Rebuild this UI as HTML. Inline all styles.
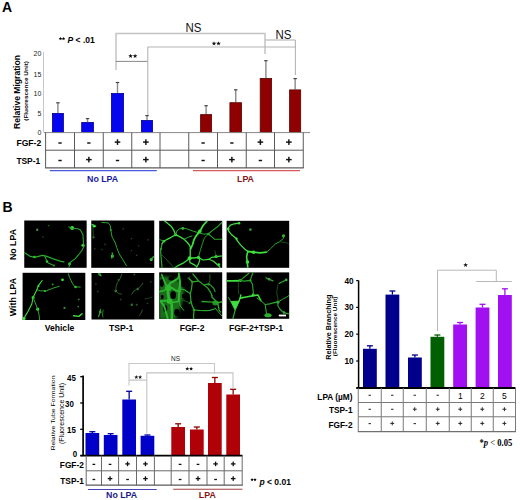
<!DOCTYPE html>
<html><head><meta charset="utf-8"><style>
html,body{margin:0;padding:0;background:#fff;width:520px;height:500px;overflow:hidden}
svg{display:block;font-family:"Liberation Sans", sans-serif}
</style></head><body>
<svg width="520" height="500" viewBox="0 0 520 500">
<rect x="0" y="0" width="520" height="500" fill="#fff"/>
<text transform="translate(2.1,11.8) scale(0.9,1)" x="0" y="0" font-size="15.556" font-weight="bold" font-style="normal" text-anchor="start" fill="#000" font-family="Liberation Sans" >A</text>
<text transform="translate(67.5,43.4) scale(0.96,1)" x="0" y="0" font-size="8.896" font-weight="bold" font-family="Liberation Sans" fill="#000"><tspan font-style="italic">P</tspan> &lt; .01</text>
<polygon points="60.50,36.80 60.97,38.05 62.31,38.11 61.26,38.95 61.62,40.24 60.50,39.50 59.38,40.24 59.74,38.95 58.69,38.11 60.03,38.05" fill="#000"/>
<polygon points="63.50,36.80 63.97,38.05 65.31,38.11 64.26,38.95 64.62,40.24 63.50,39.50 62.38,40.24 62.74,38.95 61.69,38.11 63.03,38.05" fill="#000"/>
<line x1="43.5" y1="52" x2="43.5" y2="132.5" stroke="#c8c8c8" stroke-width="1"/>
<text transform="translate(41.3,56.0) scale(0.9,1)" x="0" y="0" font-size="7.778" font-weight="normal" font-style="normal" text-anchor="end" fill="#222" font-family="Liberation Sans" >20</text>
<text transform="translate(41.3,76.8) scale(0.9,1)" x="0" y="0" font-size="7.778" font-weight="normal" font-style="normal" text-anchor="end" fill="#222" font-family="Liberation Sans" >15</text>
<text transform="translate(41.3,96.4) scale(0.9,1)" x="0" y="0" font-size="7.778" font-weight="normal" font-style="normal" text-anchor="end" fill="#222" font-family="Liberation Sans" >10</text>
<text transform="translate(41.3,115.9) scale(0.9,1)" x="0" y="0" font-size="7.778" font-weight="normal" font-style="normal" text-anchor="end" fill="#222" font-family="Liberation Sans" >5</text>
<text transform="translate(41.3,135.2) scale(0.9,1)" x="0" y="0" font-size="7.778" font-weight="normal" font-style="normal" text-anchor="end" fill="#222" font-family="Liberation Sans" >0</text>
<text transform="translate(20.1,92.0) scale(1.05,1) rotate(-90)" x="0" y="0" font-size="8.6" font-weight="bold" text-anchor="middle" fill="#000" font-family="Liberation Sans" >Relative Migration</text>
<text transform="translate(27.5,90.9) scale(0.9,1) rotate(-90)" x="0" y="0" font-size="6.4" font-weight="bold" text-anchor="middle" fill="#000" font-family="Liberation Sans" >(Fluorescence Unit)</text>
<line x1="57.9" y1="102.5" x2="57.9" y2="113.0" stroke="#8a8a8a" stroke-width="1.4"/>
<line x1="56.199999999999996" y1="102.8" x2="59.6" y2="102.8" stroke="#444" stroke-width="1.2"/>
<rect x="52.4" y="113.4" width="11.0" height="19.199999999999996" fill="#0505f0" stroke="#00008a" stroke-width="0.8"/>
<line x1="87.55" y1="118.3" x2="87.55" y2="122.0" stroke="#8a8a8a" stroke-width="1.4"/>
<line x1="85.85" y1="118.6" x2="89.25" y2="118.6" stroke="#444" stroke-width="1.2"/>
<rect x="81.7" y="122.4" width="11.7" height="10.199999999999994" fill="#0505f0" stroke="#00008a" stroke-width="0.8"/>
<line x1="117.5" y1="82.2" x2="117.5" y2="93.0" stroke="#8a8a8a" stroke-width="1.4"/>
<line x1="115.8" y1="82.5" x2="119.2" y2="82.5" stroke="#444" stroke-width="1.2"/>
<rect x="111.4" y="93.4" width="12.2" height="39.199999999999996" fill="#0505f0" stroke="#00008a" stroke-width="0.8"/>
<line x1="147.0" y1="115.3" x2="147.0" y2="120.0" stroke="#8a8a8a" stroke-width="1.4"/>
<line x1="145.3" y1="115.6" x2="148.7" y2="115.6" stroke="#444" stroke-width="1.2"/>
<rect x="141.4" y="120.4" width="11.2" height="12.199999999999994" fill="#0505f0" stroke="#00008a" stroke-width="0.8"/>
<line x1="206.1" y1="105.4" x2="206.1" y2="114.2" stroke="#8a8a8a" stroke-width="1.4"/>
<line x1="204.4" y1="105.7" x2="207.79999999999998" y2="105.7" stroke="#444" stroke-width="1.2"/>
<rect x="200.6" y="114.60000000000001" width="11.0" height="17.999999999999993" fill="#8f0000" stroke="#5a0000" stroke-width="0.8"/>
<line x1="235.75" y1="89.5" x2="235.75" y2="102.3" stroke="#8a8a8a" stroke-width="1.4"/>
<line x1="234.05" y1="89.8" x2="237.45" y2="89.8" stroke="#444" stroke-width="1.2"/>
<rect x="229.9" y="102.7" width="11.7" height="29.9" fill="#8f0000" stroke="#5a0000" stroke-width="0.8"/>
<line x1="265.90000000000003" y1="60.4" x2="265.90000000000003" y2="78.0" stroke="#8a8a8a" stroke-width="1.4"/>
<line x1="264.20000000000005" y1="60.699999999999996" x2="267.6" y2="60.699999999999996" stroke="#444" stroke-width="1.2"/>
<rect x="260.2" y="78.4" width="11.399999999999999" height="54.199999999999996" fill="#8f0000" stroke="#5a0000" stroke-width="0.8"/>
<line x1="295.15" y1="78.3" x2="295.15" y2="89.5" stroke="#8a8a8a" stroke-width="1.4"/>
<line x1="293.45" y1="78.6" x2="296.84999999999997" y2="78.6" stroke="#444" stroke-width="1.2"/>
<rect x="289.59999999999997" y="89.9" width="11.1" height="42.699999999999996" fill="#8f0000" stroke="#5a0000" stroke-width="0.8"/>
<polyline points="116,70 116,33.6 265,33.6 265,54" fill="none" stroke="#c4c4c4" stroke-width="1.5"/>
<polyline points="116,61.4 147.8,61.4" fill="none" stroke="#6a6a6a" stroke-width="0.8"/>
<polyline points="147.8,115 147.8,47 295.8,47" fill="none" stroke="#b4b4b4" stroke-width="1.1"/>
<polyline points="295.4,40 295.4,75" fill="none" stroke="#b4b4b4" stroke-width="1.1"/>
<polyline points="265,40 295.4,40" fill="none" stroke="#b4b4b4" stroke-width="1.1"/>
<text transform="translate(193.5,32.3) scale(0.9,1)" x="0" y="0" font-size="12.778" font-weight="normal" font-style="normal" text-anchor="middle" fill="#111" font-family="Liberation Sans" >NS</text>
<text transform="translate(283.5,38.8) scale(0.9,1)" x="0" y="0" font-size="12.778" font-weight="normal" font-style="normal" text-anchor="middle" fill="#111" font-family="Liberation Sans" >NS</text>
<polygon points="130.60,53.70 131.19,55.28 132.88,55.36 131.56,56.41 132.01,58.04 130.60,57.11 129.19,58.04 129.64,56.41 128.32,55.36 130.01,55.28" fill="#111"/>
<polygon points="135.10,53.70 135.69,55.28 137.38,55.36 136.06,56.41 136.51,58.04 135.10,57.11 133.69,58.04 134.14,56.41 132.82,55.36 134.51,55.28" fill="#111"/>
<polygon points="214.00,41.20 214.59,42.78 216.28,42.86 214.96,43.91 215.41,45.54 214.00,44.61 212.59,45.54 213.04,43.91 211.72,42.86 213.41,42.78" fill="#111"/>
<polygon points="218.50,41.20 219.09,42.78 220.78,42.86 219.46,43.91 219.91,45.54 218.50,44.61 217.09,45.54 217.54,43.91 216.22,42.86 217.91,42.78" fill="#111"/>
<line x1="44" y1="132.6" x2="310" y2="132.6" stroke="#888" stroke-width="1"/>
<line x1="45.6" y1="132.6" x2="45.6" y2="168" stroke="#5a5a5a" stroke-width="1"/>
<line x1="74.5" y1="132.6" x2="74.5" y2="168" stroke="#5a5a5a" stroke-width="1"/>
<line x1="103.25" y1="132.6" x2="103.25" y2="168" stroke="#5a5a5a" stroke-width="1"/>
<line x1="131.75" y1="132.6" x2="131.75" y2="168" stroke="#5a5a5a" stroke-width="1"/>
<line x1="160" y1="132.6" x2="160" y2="168" stroke="#5a5a5a" stroke-width="1"/>
<line x1="188.75" y1="132.6" x2="188.75" y2="168" stroke="#5a5a5a" stroke-width="1"/>
<line x1="217.5" y1="132.6" x2="217.5" y2="168" stroke="#5a5a5a" stroke-width="1"/>
<line x1="246.25" y1="132.6" x2="246.25" y2="168" stroke="#5a5a5a" stroke-width="1"/>
<line x1="274.5" y1="132.6" x2="274.5" y2="168" stroke="#5a5a5a" stroke-width="1"/>
<line x1="303.25" y1="132.6" x2="303.25" y2="168" stroke="#5a5a5a" stroke-width="1"/>
<line x1="45.6" y1="150.2" x2="303.25" y2="150.2" stroke="#5a5a5a" stroke-width="1"/>
<line x1="45.1" y1="167.8" x2="303.75" y2="167.8" stroke="#5a5a5a" stroke-width="1.3"/>
<text transform="translate(16.4,146.2) scale(0.9,1)" x="0" y="0" font-size="9.556" font-weight="bold" font-style="normal" text-anchor="start" fill="#000" font-family="Liberation Sans" >FGF-2</text>
<text transform="translate(16.4,163.9) scale(0.9,1)" x="0" y="0" font-size="9.333" font-weight="bold" font-style="normal" text-anchor="start" fill="#000" font-family="Liberation Sans" >TSP-1</text>
<rect x="58.40" y="142.28" width="3.30" height="1.45" fill="#111"/>
<rect x="58.40" y="159.78" width="3.30" height="1.45" fill="#111"/>
<rect x="87.22" y="142.28" width="3.30" height="1.45" fill="#111"/>
<rect x="86.08" y="158.88" width="5.60" height="1.45" fill="#111"/>
<rect x="88.15" y="156.80" width="1.45" height="5.60" fill="#111"/>
<rect x="114.70" y="141.38" width="5.60" height="1.45" fill="#111"/>
<rect x="116.78" y="139.30" width="1.45" height="5.60" fill="#111"/>
<rect x="115.85" y="159.78" width="3.30" height="1.45" fill="#111"/>
<rect x="143.07" y="141.38" width="5.60" height="1.45" fill="#111"/>
<rect x="145.15" y="139.30" width="1.45" height="5.60" fill="#111"/>
<rect x="143.07" y="158.88" width="5.60" height="1.45" fill="#111"/>
<rect x="145.15" y="156.80" width="1.45" height="5.60" fill="#111"/>
<rect x="201.47" y="142.28" width="3.30" height="1.45" fill="#111"/>
<rect x="201.47" y="159.78" width="3.30" height="1.45" fill="#111"/>
<rect x="230.22" y="142.28" width="3.30" height="1.45" fill="#111"/>
<rect x="229.07" y="158.88" width="5.60" height="1.45" fill="#111"/>
<rect x="231.15" y="156.80" width="1.45" height="5.60" fill="#111"/>
<rect x="257.57" y="141.38" width="5.60" height="1.45" fill="#111"/>
<rect x="259.65" y="139.30" width="1.45" height="5.60" fill="#111"/>
<rect x="258.73" y="159.78" width="3.30" height="1.45" fill="#111"/>
<rect x="286.07" y="141.38" width="5.60" height="1.45" fill="#111"/>
<rect x="288.15" y="139.30" width="1.45" height="5.60" fill="#111"/>
<rect x="286.07" y="158.88" width="5.60" height="1.45" fill="#111"/>
<rect x="288.15" y="156.80" width="1.45" height="5.60" fill="#111"/>
<line x1="49.8" y1="170.7" x2="156.8" y2="170.7" stroke="#4a5ae0" stroke-width="1.2"/>
<line x1="193" y1="170.7" x2="300" y2="170.7" stroke="#d65a5a" stroke-width="1.2"/>
<text transform="translate(102.6,181.9) scale(0.9,1)" x="0" y="0" font-size="9.778" font-weight="bold" font-style="normal" text-anchor="middle" fill="#1a1aa0" font-family="Liberation Sans" >No LPA</text>
<text transform="translate(245.5,182.3) scale(0.9,1)" x="0" y="0" font-size="9.778" font-weight="bold" font-style="normal" text-anchor="middle" fill="#861818" font-family="Liberation Sans" >LPA</text>
<text transform="translate(2.6,212.0) scale(0.9,1)" x="0" y="0" font-size="15.556" font-weight="bold" font-style="normal" text-anchor="start" fill="#000" font-family="Liberation Sans" >B</text>
<text transform="translate(16.3,244.5) scale(1.05,1) rotate(-90)" x="0" y="0" font-size="8.8" font-weight="bold" text-anchor="middle" fill="#000" font-family="Liberation Sans" >No LPA</text>
<text transform="translate(15.6,297) scale(1.05,1) rotate(-90)" x="0" y="0" font-size="8.8" font-weight="bold" text-anchor="middle" fill="#000" font-family="Liberation Sans" >With LPA</text>
<defs><filter id="gb" x="-5%" y="-5%" width="110%" height="110%"><feGaussianBlur stdDeviation="0.55"/></filter><filter id="gb2" x="-20%" y="-20%" width="140%" height="140%"><feGaussianBlur stdDeviation="1.6"/></filter></defs>
<rect x="24.25" y="220.5" width="62.4" height="47.3" fill="#000" stroke="none" stroke-width="0"/>
<clipPath id="cp0"><rect x="24.25" y="220.5" width="62.4" height="47.3"/></clipPath>
<g clip-path="url(#cp0)">
<g filter="url(#gb)">
<circle cx="72.1" cy="228.0" r="2.0" fill="#3ee03e"/>
<circle cx="37.2" cy="229.7" r="1.2" fill="#4a8a4a"/>
<circle cx="48.6" cy="225.6" r="0.9" fill="#1a601a"/>
<circle cx="42.9" cy="237" r="0.8" fill="#1a601a"/>
<circle cx="82.9" cy="245.3" r="1.5" fill="#3ee03e"/>
<circle cx="34.5" cy="257.0" r="1.3" fill="#3ee03e"/>
<circle cx="47" cy="261.5" r="1.2" fill="#3ee03e"/>
<circle cx="69.5" cy="264" r="1.4" fill="#3ee03e"/>
<circle cx="54" cy="265.6" r="1.0" fill="#2aa82a"/>
<polyline points="68.95,226.9 72.1,228.2 77.8,228.8 80.4,230 82.9,234.5 83.5,243.4 84.2,245.9 81.6,251 75.3,258.6 70.2,262.4 69,266.9" fill="none" stroke="#2aa82a" stroke-width="1.1" stroke-linecap="round" stroke-linejoin="round"/>
<polyline points="23.9,252.3 29.6,256.1 34.7,257.3 42.3,255.4 46.1,256.1 52.5,258.6 60.1,261.1 63.9,261.8" fill="none" stroke="#2aa82a" stroke-width="1.2" stroke-linecap="round" stroke-linejoin="round"/>
<polyline points="44.8,256.1 47.4,262.4 53.7,265.6" fill="none" stroke="#2aa82a" stroke-width="1.1" stroke-linecap="round" stroke-linejoin="round"/>
</g></g>
<rect x="91.25" y="220.5" width="63" height="47.3" fill="#000" stroke="none" stroke-width="0"/>
<clipPath id="cp1"><rect x="91.25" y="220.5" width="63" height="47.3"/></clipPath>
<g clip-path="url(#cp1)">
<g filter="url(#gb)">
<circle cx="94" cy="226" r="1.5" fill="#3ee03e"/>
<circle cx="93.5" cy="237.3" r="1.1" fill="#3c8a3c"/>
<circle cx="112.4" cy="256" r="1.5" fill="#3ee03e"/>
<circle cx="151.2" cy="259.5" r="1.5" fill="#3ee03e"/>
<circle cx="111" cy="230" r="0.9" fill="#2aa82a"/>
<circle cx="123.2" cy="228.9" r="0.8" fill="#303a30"/>
<circle cx="131.5" cy="238.6" r="0.8" fill="#303a30"/>
<circle cx="138.6" cy="245.7" r="0.8" fill="#303a30"/>
<circle cx="131.5" cy="250.8" r="0.8" fill="#303a30"/>
<circle cx="148.3" cy="239.9" r="0.8" fill="#303a30"/>
<circle cx="136.7" cy="255.4" r="0.8" fill="#303a30"/>
<circle cx="102" cy="249.6" r="0.8" fill="#303a30"/>
<circle cx="105" cy="244.4" r="0.8" fill="#303a30"/>
<circle cx="94.8" cy="248.9" r="0.8" fill="#303a30"/>
<polyline points="91.6,224.4 95.4,226.4" fill="none" stroke="#3ee03e" stroke-width="1.2" stroke-linecap="round" stroke-linejoin="round"/>
<polyline points="101.9,222.5 108.3,222.9 110.3,225.7 110.9,230.9 112.2,237.3 115.4,243.1 116.7,247.6 119.3,254.1 122.5,259.2 126.4,265.7" fill="none" stroke="#2aa82a" stroke-width="1.0" stroke-linecap="round" stroke-linejoin="round"/>
<polyline points="92.9,227.7 93.5,237.3" fill="none" stroke="#1a601a" stroke-width="0.8" stroke-linecap="round" stroke-linejoin="round"/>
<polyline points="112.2,252.8 112.8,256.7 111.6,258" fill="none" stroke="#2aa82a" stroke-width="1.3" stroke-linecap="round" stroke-linejoin="round"/>
<polyline points="150.9,259.2 153.4,256.7" fill="none" stroke="#2aa82a" stroke-width="1.3" stroke-linecap="round" stroke-linejoin="round"/>
</g></g>
<rect x="159.2" y="220.8" width="63" height="47" fill="#000" stroke="none" stroke-width="0"/>
<clipPath id="cp2"><rect x="159.2" y="220.8" width="63" height="47"/></clipPath>
<g clip-path="url(#cp2)">
<g filter="url(#gb)">
<circle cx="175.6" cy="234.7" r="1.5" fill="#3ee03e"/>
<circle cx="189.6" cy="258.3" r="2.0" fill="#3ee03e"/>
<circle cx="198.5" cy="257.4" r="1.6" fill="#3ee03e"/>
<circle cx="216.1" cy="256.4" r="1.6" fill="#3ee03e"/>
<circle cx="182.8" cy="228.4" r="1.3" fill="#3ee03e"/>
<circle cx="199.8" cy="231.4" r="1.8" fill="#3ee03e"/>
<circle cx="208.3" cy="234" r="1.3" fill="#2aa82a"/>
<circle cx="218.8" cy="264.6" r="1.4" fill="#3ee03e"/>
<circle cx="163.9" cy="241.2" r="1.3" fill="#3ee03e"/>
<circle cx="161" cy="249" r="1.1" fill="#2aa82a"/>
<polyline points="163.9,220.3 167.8,223.6 171.1,226.2 173.7,230.1 175.6,234.7" fill="none" stroke="#3ee03e" stroke-width="1.3" stroke-linecap="round" stroke-linejoin="round"/>
<polyline points="175.6,234.7 171.1,237.3 167.2,239.3 163.9,241.2 161.9,243.8" fill="none" stroke="#3ee03e" stroke-width="1.3" stroke-linecap="round" stroke-linejoin="round"/>
<polyline points="159,239.5 160.6,239.9 163.9,241.2" fill="none" stroke="#2aa82a" stroke-width="1.0" stroke-linecap="round" stroke-linejoin="round"/>
<polyline points="175.6,234.7 179.6,236.6 184.1,239.3 187.4,242.5 189.4,245.1 190.3,247 190.2,256.1 189.6,258" fill="none" stroke="#3ee03e" stroke-width="1.3" stroke-linecap="round" stroke-linejoin="round"/>
<polyline points="184.1,239.3 188.1,237.3 192,236" fill="none" stroke="#2aa82a" stroke-width="1.0" stroke-linecap="round" stroke-linejoin="round"/>
<polyline points="175.6,234.7 177,230.8 179.6,228.8 182.8,228.2 186.8,228.8 190,230.1 193.9,231.4 198.5,232.7 203.1,234 208.3,234" fill="none" stroke="#2aa82a" stroke-width="1.0" stroke-linecap="round" stroke-linejoin="round"/>
<polyline points="207,221 203.1,225.5 199.8,231.4 196.5,235.3 193.9,239.9 192.6,244.5 190.6,249" fill="none" stroke="#3ee03e" stroke-width="1.8" stroke-linecap="round" stroke-linejoin="round"/>
<polyline points="208.3,234 212.9,230.1 217.5,226.8 220.1,224.2 222,222.5" fill="none" stroke="#2aa82a" stroke-width="1.1" stroke-linecap="round" stroke-linejoin="round"/>
<polyline points="208.3,234 211.6,236.6 214.8,239.3 222,239.3" fill="none" stroke="#2aa82a" stroke-width="1.1" stroke-linecap="round" stroke-linejoin="round"/>
<polyline points="208.3,234 204.4,238 202.4,243.8 200.5,249.5 198.7,256.5" fill="none" stroke="#2aa82a" stroke-width="0.9" stroke-linecap="round" stroke-linejoin="round"/>
<polyline points="161.9,244.3 160.6,250.8 161.3,259.3 161.9,266.5 162,268" fill="none" stroke="#2aa82a" stroke-width="1.2" stroke-linecap="round" stroke-linejoin="round"/>
<polyline points="161.9,254.8 165.8,258.7 171.1,264.6 173.7,267.5" fill="none" stroke="#2a6a2a" stroke-width="0.8" stroke-linecap="round" stroke-linejoin="round"/>
<polyline points="189.6,258.5 184.1,262.6 177.6,265.9 174.3,268" fill="none" stroke="#3ee03e" stroke-width="1.2" stroke-linecap="round" stroke-linejoin="round"/>
<polyline points="189.6,258 193.9,258 198.5,257.4" fill="none" stroke="#3ee03e" stroke-width="1.4" stroke-linecap="round" stroke-linejoin="round"/>
<polyline points="198.5,257.4 199.8,260 198.5,263.9 196.5,267.5" fill="none" stroke="#3ee03e" stroke-width="1.2" stroke-linecap="round" stroke-linejoin="round"/>
<polyline points="198.5,257.4 203.1,260 209,259.3 213.5,261.3 218.1,265.2 220.1,267.5" fill="none" stroke="#3ee03e" stroke-width="1.2" stroke-linecap="round" stroke-linejoin="round"/>
<polyline points="209,259.3 211.6,257.4 216.1,256.7 220.1,256.1 222,256" fill="none" stroke="#3ee03e" stroke-width="1.1" stroke-linecap="round" stroke-linejoin="round"/>
<polyline points="189.6,259 190,262.6 193.9,264.6 196.5,266.5" fill="none" stroke="#3ee03e" stroke-width="1.2" stroke-linecap="round" stroke-linejoin="round"/>
<polyline points="214.8,250.8 216.1,256.1" fill="none" stroke="#1a601a" stroke-width="0.8" stroke-linecap="round" stroke-linejoin="round"/>
</g></g>
<rect x="226.6" y="220.8" width="62.6" height="47" fill="#000" stroke="none" stroke-width="0"/>
<clipPath id="cp3"><rect x="226.6" y="220.8" width="62.6" height="47"/></clipPath>
<g clip-path="url(#cp3)">
<g filter="url(#gb)">
<circle cx="239" cy="223.3" r="1.3" fill="#3ee03e"/>
<circle cx="250.4" cy="229.6" r="1.3" fill="#2aa82a"/>
<circle cx="236.5" cy="238.8" r="1.2" fill="#3ee03e"/>
<circle cx="247.5" cy="262" r="1.8" fill="#3ee03e"/>
<circle cx="253.5" cy="252.3" r="1.8" fill="#3ee03e"/>
<circle cx="283.5" cy="236" r="1.4" fill="#3ee03e"/>
<circle cx="228.3" cy="229" r="1.3" fill="#3ee03e"/>
<polyline points="227.9,228.3 230.4,225.1 234.3,223.8 239.5,223.2" fill="none" stroke="#3ee03e" stroke-width="1.2" stroke-linecap="round" stroke-linejoin="round"/>
<polyline points="227.9,228.3 228.5,230.9 231.7,234.8 236.2,238.6 237.5,241.2 240.8,245.1 245.3,249.6 247.8,251.5" fill="none" stroke="#3ee03e" stroke-width="1.3" stroke-linecap="round" stroke-linejoin="round"/>
<polyline points="247.8,251.5 246.6,256.7 247.2,261.8 247.8,267.6" fill="none" stroke="#3ee03e" stroke-width="1.6" stroke-linecap="round" stroke-linejoin="round"/>
<polyline points="247.8,251.5 253.6,252.2 260.1,252.8 266.5,252.2" fill="none" stroke="#3ee03e" stroke-width="1.8" stroke-linecap="round" stroke-linejoin="round"/>
<polyline points="266.5,252.2 270.4,248.9 275.5,243.8 279.4,241.8 283.3,238.6 283.9,234.8" fill="none" stroke="#2aa82a" stroke-width="1.0" stroke-linecap="round" stroke-linejoin="round"/>
<polyline points="279.4,241.8 285.9,242.5 288.4,243.8" fill="none" stroke="#1a601a" stroke-width="0.8" stroke-linecap="round" stroke-linejoin="round"/>
</g></g>
<rect x="22.6" y="272.8" width="62.7" height="47.2" fill="#000" stroke="none" stroke-width="0"/>
<clipPath id="cp4"><rect x="22.6" y="272.8" width="62.7" height="47.2"/></clipPath>
<g clip-path="url(#cp4)">
<g filter="url(#gb)">
<circle cx="33.1" cy="297.5" r="1.5" fill="#3ee03e"/>
<circle cx="37.7" cy="309.2" r="1.6" fill="#3ee03e"/>
<circle cx="23.8" cy="318.5" r="1.8" fill="#3ee03e"/>
<circle cx="62.5" cy="279.8" r="1.4" fill="#3ee03e"/>
<circle cx="52.7" cy="284.4" r="0.9" fill="#2aa82a"/>
<circle cx="64.5" cy="307.9" r="1.1" fill="#3a8a3a"/>
<circle cx="78.2" cy="306.6" r="0.9" fill="#3a7a3a"/>
<circle cx="78.8" cy="299.4" r="0.9" fill="#3a7a3a"/>
<circle cx="75.5" cy="287" r="1.2" fill="#3ee03e"/>
<circle cx="38.5" cy="286" r="1.1" fill="#3ee03e"/>
<circle cx="45" cy="291" r="1.0" fill="#3ee03e"/>
<polyline points="42.2,280.5 38.3,285.7 37,289.6 34.4,294.8 33.1,297.5 31.8,304 27.8,311.8 24.6,317.1 23.3,319" fill="none" stroke="#3ee03e" stroke-width="1.1" stroke-linecap="round" stroke-linejoin="round"/>
<polyline points="33.1,297.5 35.7,304 37.7,309.2 39,314.5 39.6,319.7" fill="none" stroke="#2aa82a" stroke-width="1.0" stroke-linecap="round" stroke-linejoin="round"/>
<polyline points="37,289.6 40.9,290.9 46.2,290.9 52.7,288.3 59.2,286.3" fill="none" stroke="#2aa82a" stroke-width="1.0" stroke-linecap="round" stroke-linejoin="round"/>
<polyline points="68.4,273.9 69.7,277.8 72.3,283.1 74.9,287 80.2,287" fill="none" stroke="#2aa82a" stroke-width="1.0" stroke-linecap="round" stroke-linejoin="round"/>
<polyline points="73.6,315.8 78.8,316.4 82.1,313.8" fill="none" stroke="#3ee03e" stroke-width="1.4" stroke-linecap="round" stroke-linejoin="round"/>
</g></g>
<rect x="91.5" y="273" width="62.8" height="46.5" fill="#000" stroke="none" stroke-width="0"/>
<clipPath id="cp5"><rect x="91.5" y="273" width="62.8" height="46.5"/></clipPath>
<g clip-path="url(#cp5)">
<g filter="url(#gb)">
<circle cx="99.8" cy="274.6" r="1.3" fill="#2aa82a"/>
<circle cx="115.8" cy="291" r="1.3" fill="#3c8c3c"/>
<circle cx="118.5" cy="280" r="0.9" fill="#2a6a2a"/>
<circle cx="137.7" cy="289" r="1.2" fill="#3a7a3a"/>
<circle cx="134.4" cy="274.6" r="1.0" fill="#2a5a2a"/>
<circle cx="131.8" cy="304.8" r="1.2" fill="#2a7a2a"/>
<circle cx="136.7" cy="304.8" r="1.0" fill="#245a24"/>
<circle cx="100.3" cy="312" r="1.3" fill="#2aa82a"/>
<circle cx="95.9" cy="283.8" r="0.9" fill="#1e3a1e"/>
<circle cx="97.8" cy="291.6" r="1.0" fill="#1e3a1e"/>
<circle cx="150.8" cy="281.8" r="1.0" fill="#1e3a1e"/>
<circle cx="120.7" cy="299.6" r="1.0" fill="#1e3a1e"/>
<circle cx="147.5" cy="303.5" r="0.8" fill="#224a22"/>
<polyline points="98.5,273.3 101.1,275.9" fill="none" stroke="#2aa82a" stroke-width="1.3" stroke-linecap="round" stroke-linejoin="round"/>
<polyline points="122,274 120.1,278.5 117.5,282.5 116.1,286.4 115.8,291 118.8,293.6 121.4,294.2" fill="none" stroke="#2a6a2a" stroke-width="0.9" stroke-linecap="round" stroke-linejoin="round"/>
<polyline points="131.8,294.2 133.8,291 137.7,289 141.6,285.1 142.9,283.1" fill="none" stroke="#2a6a2a" stroke-width="0.9" stroke-linecap="round" stroke-linejoin="round"/>
<polyline points="100.5,309.4 99.5,314 98.5,316.6" fill="none" stroke="#2aa82a" stroke-width="1.2" stroke-linecap="round" stroke-linejoin="round"/>
<polyline points="103.1,310 102.4,315.9 103.1,317.2" fill="none" stroke="#2a7a2a" stroke-width="1.0" stroke-linecap="round" stroke-linejoin="round"/>
<polyline points="142.3,310 141,313.3 139,315.9" fill="none" stroke="#3a5a2a" stroke-width="0.9" stroke-linecap="round" stroke-linejoin="round"/>
<polyline points="144.9,298.9 148.1,298.3 152.1,297" fill="none" stroke="#224a22" stroke-width="0.8" stroke-linecap="round" stroke-linejoin="round"/>
</g></g>
<rect x="159.2" y="272.3" width="63" height="46.6" fill="#000" stroke="none" stroke-width="0"/>
<clipPath id="cp6"><rect x="159.2" y="272.3" width="63" height="46.6"/></clipPath>
<g clip-path="url(#cp6)">
<g filter="url(#gb2)">
<polygon points="159,277 166,276 176,279 183,284 184,296 181,306 176,319.5 159,319.5" fill="#1d6e1d"/>
</g>
<g filter="url(#gb)">
<ellipse cx="173.2" cy="295.0" rx="2.8" ry="4.0" fill="#000"/>
<ellipse cx="165.3" cy="308.5" rx="2.0" ry="3.6" fill="#000"/>
<ellipse cx="176.8" cy="312.5" rx="2.6" ry="3.8" fill="#000"/>
<ellipse cx="161.8" cy="283" rx="2.0" ry="4.0" fill="#000"/>
<ellipse cx="171.5" cy="278.6" rx="3.0" ry="2.2" fill="#000"/>
<ellipse cx="183.5" cy="284" rx="2.4" ry="3.2" fill="#000"/>
<ellipse cx="162.3" cy="297" rx="1.4" ry="2.2" fill="#000"/>
<ellipse cx="184" cy="296" rx="2.2" ry="2.6" fill="#000"/>
<ellipse cx="168.2" cy="287.8" rx="3.2" ry="3.4" fill="#2fb82f"/>
<ellipse cx="169.5" cy="301" rx="2.8" ry="2.6" fill="#38c838"/>
<ellipse cx="179.3" cy="290" rx="1.6" ry="3.5" fill="#2a9a2a"/>
<ellipse cx="171.8" cy="308" rx="1.5" ry="3.5" fill="#2a9a2a"/>
<ellipse cx="215.5" cy="303" rx="3.2" ry="2.5" fill="#2a8a2a"/>
<circle cx="194" cy="310" r="1.3" fill="#2aa82a"/>
<circle cx="192.3" cy="281.8" r="1.1" fill="#2aa82a"/>
<circle cx="208.6" cy="284.4" r="1.2" fill="#2aa82a"/>
<polyline points="161.7,274.5 164.2,281 167.5,287.5" fill="none" stroke="#2fb82f" stroke-width="1.6" stroke-linecap="round" stroke-linejoin="round"/>
<polyline points="167.5,287.5 170.3,283.1 174.6,280.6 177.7,278.8 178.9,275.7 178.9,273.2" fill="none" stroke="#2fb82f" stroke-width="1.8" stroke-linecap="round" stroke-linejoin="round"/>
<polyline points="179.2,275.7 180,282 179.8,288 178.8,296 178.9,301.2" fill="none" stroke="#2fb82f" stroke-width="2.0" stroke-linecap="round" stroke-linejoin="round"/>
<polyline points="167.5,287.5 172.2,288 175.8,290.5 178.3,291.1" fill="none" stroke="#2fb82f" stroke-width="1.8" stroke-linecap="round" stroke-linejoin="round"/>
<polyline points="159.2,291.7 164.2,290.5 167.5,287.5" fill="none" stroke="#2fb82f" stroke-width="1.6" stroke-linecap="round" stroke-linejoin="round"/>
<polyline points="180.5,289 184.5,289.8 190,293.5" fill="none" stroke="#2aa82a" stroke-width="1.2" stroke-linecap="round" stroke-linejoin="round"/>
<polyline points="187.5,278.2 190,276.9" fill="none" stroke="#1a601a" stroke-width="1.0" stroke-linecap="round" stroke-linejoin="round"/>
<polyline points="167.5,287.5 168,293 169,300.5" fill="none" stroke="#2fb82f" stroke-width="2.6" stroke-linecap="round" stroke-linejoin="round"/>
<polyline points="169,300.5 171.8,304.2 172,311 171.8,318.8" fill="none" stroke="#2fb82f" stroke-width="2.4" stroke-linecap="round" stroke-linejoin="round"/>
<polyline points="160.5,301.2 164.2,306.1 166,312.2 167.8,318.8" fill="none" stroke="#2fb82f" stroke-width="1.8" stroke-linecap="round" stroke-linejoin="round"/>
<polyline points="160.5,301.2 163,300.8 169,300.5" fill="none" stroke="#2fb82f" stroke-width="1.8" stroke-linecap="round" stroke-linejoin="round"/>
<polyline points="169,300.5 172.2,302.4 176.5,301.8 178.9,301.2" fill="none" stroke="#2fb82f" stroke-width="1.6" stroke-linecap="round" stroke-linejoin="round"/>
<polyline points="178.9,301.2 180.3,306.1 183.8,310.4" fill="none" stroke="#2aa82a" stroke-width="1.0" stroke-linecap="round" stroke-linejoin="round"/>
<polyline points="182.6,299.9 190,303" fill="none" stroke="#1a601a" stroke-width="0.9" stroke-linecap="round" stroke-linejoin="round"/>
<polyline points="192.9,274 198.2,280.5 204,285.1 208,288.3 210.6,292.3 211.9,295.5" fill="none" stroke="#2aa82a" stroke-width="1.2" stroke-linecap="round" stroke-linejoin="round"/>
<polyline points="189,278.5 192.3,281.8 198.2,281.2" fill="none" stroke="#2aa82a" stroke-width="1.3" stroke-linecap="round" stroke-linejoin="round"/>
<polyline points="192.3,281.8 191.6,288.3 190.3,294.2 191,301.5" fill="none" stroke="#2aa82a" stroke-width="1.2" stroke-linecap="round" stroke-linejoin="round"/>
<polyline points="208.6,284.4 209.9,280.5 209.9,274.6" fill="none" stroke="#1a601a" stroke-width="1.0" stroke-linecap="round" stroke-linejoin="round"/>
<polyline points="204,285.1 208.6,283.8 210.6,285.1 213.8,288.3 215.1,291.6" fill="none" stroke="#2aa82a" stroke-width="1.1" stroke-linecap="round" stroke-linejoin="round"/>
<polyline points="191,301.5 192.3,306.1 194.2,310 193.6,314.6 193.6,318.8" fill="none" stroke="#2aa82a" stroke-width="1.3" stroke-linecap="round" stroke-linejoin="round"/>
<polyline points="189,303.5 191,302.8" fill="none" stroke="#2aa82a" stroke-width="1.0" stroke-linecap="round" stroke-linejoin="round"/>
<polyline points="194.2,310 199.5,310.4 205.3,310.7 209.9,310.4 215.1,308.7" fill="none" stroke="#2aa82a" stroke-width="1.2" stroke-linecap="round" stroke-linejoin="round"/>
<polyline points="202,301.5 208.6,301.9 213.8,302.2 219.1,302.5 223,301.5" fill="none" stroke="#2aa82a" stroke-width="1.3" stroke-linecap="round" stroke-linejoin="round"/>
<polyline points="211.9,295.5 211.9,297 215.1,300.2 217.8,303.5 219.1,310 220.4,312" fill="none" stroke="#2aa82a" stroke-width="1.3" stroke-linecap="round" stroke-linejoin="round"/>
<polyline points="215.1,308 218.4,312 222,316" fill="none" stroke="#2aa82a" stroke-width="1.0" stroke-linecap="round" stroke-linejoin="round"/>
</g></g>
<rect x="226.6" y="272.4" width="62.6" height="46.4" fill="#000" stroke="none" stroke-width="0"/>
<clipPath id="cp7"><rect x="226.6" y="272.4" width="62.6" height="46.4"/></clipPath>
<g clip-path="url(#cp7)">
<g filter="url(#gb)">
<polygon points="230.9,301.5 239.2,301.2 235.2,310" fill="#3ee03e" stroke="#3ee03e" stroke-width="1" stroke-linejoin="round"/>
<circle cx="240.2" cy="280.7" r="1.4" fill="#3ee03e"/>
<circle cx="250.3" cy="280.4" r="1.2" fill="#2aa82a"/>
<circle cx="253.1" cy="295" r="1.4" fill="#3ee03e"/>
<ellipse cx="268" cy="315.2" rx="3.6" ry="2.0" fill="#2eb02e"/>
<circle cx="277.9" cy="302" r="1.6" fill="#3ee03e"/>
<circle cx="269.1" cy="279.3" r="1.3" fill="#5ab05a"/>
<circle cx="286.2" cy="279.9" r="1.3" fill="#5ab05a"/>
<circle cx="284" cy="312.6" r="1.4" fill="#2aa82a"/>
<polyline points="226.8,280.9 233,280.9 240.2,280.7" fill="none" stroke="#3ee03e" stroke-width="1.9" stroke-linecap="round" stroke-linejoin="round"/>
<polyline points="240.2,280.7 244.5,276.9 247.5,274.5 249,273" fill="none" stroke="#2aa82a" stroke-width="1.1" stroke-linecap="round" stroke-linejoin="round"/>
<polyline points="240.2,280.7 244.5,281.2 250.3,280.4" fill="none" stroke="#2aa82a" stroke-width="1.3" stroke-linecap="round" stroke-linejoin="round"/>
<polyline points="250.3,280.4 251.8,275.7 253.1,272" fill="none" stroke="#2aa82a" stroke-width="1.1" stroke-linecap="round" stroke-linejoin="round"/>
<polyline points="250.3,280.4 252.5,284.3 253.1,290.5 253.7,295.6" fill="none" stroke="#2aa82a" stroke-width="1.1" stroke-linecap="round" stroke-linejoin="round"/>
<polyline points="240.2,280.7 238.3,281.8 238.3,289.2 238.9,294.2" fill="none" stroke="#1a601a" stroke-width="0.8" stroke-linecap="round" stroke-linejoin="round"/>
<polyline points="240.8,295 240.2,298.1 238.9,301.2" fill="none" stroke="#3ee03e" stroke-width="1.4" stroke-linecap="round" stroke-linejoin="round"/>
<polyline points="240.2,298.1 247.5,296.8 253.7,295.6 258,295 260.8,300.7" fill="none" stroke="#3ee03e" stroke-width="1.6" stroke-linecap="round" stroke-linejoin="round"/>
<polyline points="257,298.2 260.8,300.7 265.2,304.5" fill="none" stroke="#2aa82a" stroke-width="1.0" stroke-linecap="round" stroke-linejoin="round"/>
<polyline points="228.5,297.5 230.9,301.8" fill="none" stroke="#2aa82a" stroke-width="1.0" stroke-linecap="round" stroke-linejoin="round"/>
<polyline points="235.2,309.8 234,314.7 232.8,319" fill="none" stroke="#2aa82a" stroke-width="1.3" stroke-linecap="round" stroke-linejoin="round"/>
<polyline points="265.9,277.7 269.1,279.3 272.9,280.9" fill="none" stroke="#2aa82a" stroke-width="1.2" stroke-linecap="round" stroke-linejoin="round"/>
<polyline points="279.2,283.4 283,281.5 286.2,279.9" fill="none" stroke="#2aa82a" stroke-width="1.2" stroke-linecap="round" stroke-linejoin="round"/>
<polyline points="277.9,284.7 276.7,292.9 277.8,298 277.9,302" fill="none" stroke="#1a601a" stroke-width="0.8" stroke-linecap="round" stroke-linejoin="round"/>
<polyline points="265.2,304.5 269.7,303.9 274.1,302.6 277.9,302" fill="none" stroke="#2aa82a" stroke-width="1.2" stroke-linecap="round" stroke-linejoin="round"/>
<polyline points="277.9,302 282.4,299.4 286.8,296.9 289,295.5" fill="none" stroke="#2aa82a" stroke-width="1.0" stroke-linecap="round" stroke-linejoin="round"/>
<polyline points="277.9,302 277.9,305.8 279.8,309 282.4,311.5 286.2,313.4 289,314" fill="none" stroke="#2aa82a" stroke-width="1.1" stroke-linecap="round" stroke-linejoin="round"/>
<polyline points="265.2,304.5 265.9,309.6 266.5,313.4 267.8,315.3" fill="none" stroke="#2aa82a" stroke-width="1.1" stroke-linecap="round" stroke-linejoin="round"/>
</g></g>
<rect x="278.8" y="314.6" width="7.2" height="1.8" fill="#fff" stroke="none" stroke-width="0"/>
<text transform="translate(59.5,331.2) scale(0.9,1)" x="0" y="0" font-size="9.556" font-weight="bold" font-style="normal" text-anchor="middle" fill="#000" font-family="Liberation Sans" >Vehicle</text>
<text transform="translate(121.2,331.2) scale(0.9,1)" x="0" y="0" font-size="9.556" font-weight="bold" font-style="normal" text-anchor="middle" fill="#000" font-family="Liberation Sans" >TSP-1</text>
<text transform="translate(192.1,331.2) scale(0.9,1)" x="0" y="0" font-size="9.556" font-weight="bold" font-style="normal" text-anchor="middle" fill="#000" font-family="Liberation Sans" >FGF-2</text>
<text transform="translate(256,331.2) scale(0.9,1)" x="0" y="0" font-size="9.556" font-weight="bold" font-style="normal" text-anchor="middle" fill="#000" font-family="Liberation Sans" >FGF-2+TSP-1</text>
<line x1="83.1" y1="375.6" x2="83.1" y2="456" stroke="#000" stroke-width="1.7"/>
<line x1="80.2" y1="376.7" x2="83.1" y2="376.7" stroke="#000" stroke-width="1.3"/>
<text transform="translate(75.9,380.59999999999997) scale(0.9,1)" x="0" y="0" font-size="8.778" font-weight="bold" font-style="normal" text-anchor="end" fill="#000" font-family="Liberation Sans" >45</text>
<line x1="80.2" y1="403" x2="83.1" y2="403" stroke="#000" stroke-width="1.3"/>
<text transform="translate(73.9,406.9) scale(0.9,1)" x="0" y="0" font-size="8.778" font-weight="bold" font-style="normal" text-anchor="end" fill="#000" font-family="Liberation Sans" >30</text>
<line x1="80.2" y1="429.3" x2="83.1" y2="429.3" stroke="#000" stroke-width="1.3"/>
<text transform="translate(75.9,433.2) scale(0.9,1)" x="0" y="0" font-size="8.778" font-weight="bold" font-style="normal" text-anchor="end" fill="#000" font-family="Liberation Sans" >15</text>
<line x1="80.2" y1="455.6" x2="83.1" y2="455.6" stroke="#000" stroke-width="1.3"/>
<text transform="translate(77.2,457.40000000000003) scale(0.9,1)" x="0" y="0" font-size="8.778" font-weight="bold" font-style="normal" text-anchor="end" fill="#000" font-family="Liberation Sans" >0</text>
<text transform="translate(55.3,413) scale(0.9,1) rotate(-90)" x="0" y="0" font-size="6.9" font-weight="normal" text-anchor="middle" fill="#000" font-family="Liberation Sans" >Relative Tube Formation</text>
<text transform="translate(63.6,413.5) scale(0.9,1) rotate(-90)" x="0" y="0" font-size="7.0" font-weight="normal" text-anchor="middle" fill="#000" font-family="Liberation Sans" >(Fluorescence Unit)</text>
<line x1="92.35" y1="431.7" x2="92.35" y2="433.0" stroke="#0000a8" stroke-width="1.3"/>
<line x1="89.35" y1="431.7" x2="95.35" y2="431.7" stroke="#0000a8" stroke-width="1.3"/>
<rect x="85.5" y="433.0" width="13.7" height="22.600000000000023" fill="#0000c8" stroke="none" stroke-width="0"/>
<line x1="110.64999999999999" y1="433.7" x2="110.64999999999999" y2="435.0" stroke="#0000a8" stroke-width="1.3"/>
<line x1="107.64999999999999" y1="433.7" x2="113.64999999999999" y2="433.7" stroke="#0000a8" stroke-width="1.3"/>
<rect x="103.8" y="435.0" width="13.7" height="20.600000000000023" fill="#0000c8" stroke="none" stroke-width="0"/>
<line x1="129.15" y1="391.3" x2="129.15" y2="399.5" stroke="#0000a8" stroke-width="1.3"/>
<line x1="126.15" y1="391.3" x2="132.15" y2="391.3" stroke="#0000a8" stroke-width="1.3"/>
<rect x="122.3" y="399.5" width="13.7" height="56.10000000000002" fill="#0000c8" stroke="none" stroke-width="0"/>
<line x1="147.45" y1="435.0" x2="147.45" y2="435.8" stroke="#0000a8" stroke-width="1.3"/>
<line x1="144.45" y1="435.0" x2="150.45" y2="435.0" stroke="#0000a8" stroke-width="1.3"/>
<rect x="140.6" y="435.8" width="13.7" height="19.80000000000001" fill="#0000c8" stroke="none" stroke-width="0"/>
<line x1="178.15" y1="423.8" x2="178.15" y2="427.0" stroke="#900000" stroke-width="1.3"/>
<line x1="175.15" y1="423.8" x2="181.15" y2="423.8" stroke="#900000" stroke-width="1.3"/>
<rect x="171.3" y="427.0" width="13.7" height="28.600000000000023" fill="#b00008" stroke="none" stroke-width="0"/>
<line x1="196.85" y1="427.0" x2="196.85" y2="429.5" stroke="#900000" stroke-width="1.3"/>
<line x1="193.85" y1="427.0" x2="199.85" y2="427.0" stroke="#900000" stroke-width="1.3"/>
<rect x="190.0" y="429.5" width="13.7" height="26.100000000000023" fill="#b00008" stroke="none" stroke-width="0"/>
<line x1="214.85" y1="377.5" x2="214.85" y2="383.0" stroke="#900000" stroke-width="1.3"/>
<line x1="211.85" y1="377.5" x2="217.85" y2="377.5" stroke="#900000" stroke-width="1.3"/>
<rect x="208.0" y="383.0" width="13.7" height="72.60000000000002" fill="#b00008" stroke="none" stroke-width="0"/>
<line x1="233.15" y1="389.3" x2="233.15" y2="394.5" stroke="#900000" stroke-width="1.3"/>
<line x1="230.15" y1="389.3" x2="236.15" y2="389.3" stroke="#900000" stroke-width="1.3"/>
<rect x="226.3" y="394.5" width="13.7" height="61.10000000000002" fill="#b00008" stroke="none" stroke-width="0"/>
<polyline points="129.0,385.5 129.0,363.5 214.5,363.5 214.5,373.8" fill="none" stroke="#c8c8c8" stroke-width="1.1"/>
<polyline points="129.0,380.1 146.8,380.1" fill="none" stroke="#bdbdbd" stroke-width="1.1"/>
<polyline points="146.8,433.8 146.8,372.9 233,372.9 233,388.8" fill="none" stroke="#c4c4c4" stroke-width="1.1"/>
<text transform="translate(175.5,360.6) scale(0.9,1)" x="0" y="0" font-size="7.222" font-weight="normal" font-style="normal" text-anchor="middle" fill="#222" font-family="Liberation Sans" >NS</text>
<polygon points="136.30,375.10 136.82,376.49 138.30,376.55 137.14,377.47 137.53,378.90 136.30,378.08 135.07,378.90 135.46,377.47 134.30,376.55 135.78,376.49" fill="#111"/>
<polygon points="140.10,375.10 140.62,376.49 142.10,376.55 140.94,377.47 141.33,378.90 140.10,378.08 138.87,378.90 139.26,377.47 138.10,376.55 139.58,376.49" fill="#111"/>
<polygon points="187.30,366.70 187.82,368.09 189.30,368.15 188.14,369.07 188.53,370.50 187.30,369.68 186.07,370.50 186.46,369.07 185.30,368.15 186.78,368.09" fill="#111"/>
<polygon points="191.10,366.70 191.62,368.09 193.10,368.15 191.94,369.07 192.33,370.50 191.10,369.68 189.87,370.50 190.26,369.07 189.10,368.15 190.58,368.09" fill="#111"/>
<line x1="80.5" y1="455.6" x2="242.5" y2="455.6" stroke="#000" stroke-width="1.6"/>
<line x1="86.2" y1="455.6" x2="86.2" y2="485.3" stroke="#6a6a6a" stroke-width="1"/>
<line x1="101.5" y1="455.6" x2="101.5" y2="485.3" stroke="#6a6a6a" stroke-width="1"/>
<line x1="118.6" y1="455.6" x2="118.6" y2="485.3" stroke="#6a6a6a" stroke-width="1"/>
<line x1="136.5" y1="455.6" x2="136.5" y2="485.3" stroke="#6a6a6a" stroke-width="1"/>
<line x1="154.4" y1="455.6" x2="154.4" y2="485.3" stroke="#6a6a6a" stroke-width="1"/>
<line x1="171.2" y1="455.6" x2="171.2" y2="485.3" stroke="#6a6a6a" stroke-width="1"/>
<line x1="189" y1="455.6" x2="189" y2="485.3" stroke="#6a6a6a" stroke-width="1"/>
<line x1="207" y1="455.6" x2="207" y2="485.3" stroke="#6a6a6a" stroke-width="1"/>
<line x1="224.2" y1="455.6" x2="224.2" y2="485.3" stroke="#6a6a6a" stroke-width="1"/>
<line x1="242.2" y1="455.6" x2="242.2" y2="485.3" stroke="#6a6a6a" stroke-width="1"/>
<line x1="86.2" y1="470.8" x2="242.2" y2="470.8" stroke="#6a6a6a" stroke-width="1"/>
<line x1="85.7" y1="485.2" x2="242.7" y2="485.2" stroke="#5a5a5a" stroke-width="1.2"/>
<text transform="translate(83.8,467.6) scale(0.9,1)" x="0" y="0" font-size="9.222" font-weight="bold" font-style="normal" text-anchor="end" fill="#000" font-family="Liberation Sans" >FGF-2</text>
<text transform="translate(83.8,484.4) scale(0.9,1)" x="0" y="0" font-size="9.222" font-weight="bold" font-style="normal" text-anchor="end" fill="#000" font-family="Liberation Sans" >TSP-1</text>
<rect x="92.50" y="463.75" width="2.70" height="1.30" fill="#111"/>
<rect x="92.50" y="478.85" width="2.70" height="1.30" fill="#111"/>
<rect x="108.70" y="463.75" width="2.70" height="1.30" fill="#111"/>
<rect x="107.75" y="477.95" width="4.60" height="1.30" fill="#111"/>
<rect x="109.40" y="476.30" width="1.30" height="4.60" fill="#111"/>
<rect x="125.25" y="463.25" width="4.60" height="1.30" fill="#111"/>
<rect x="126.90" y="461.60" width="1.30" height="4.60" fill="#111"/>
<rect x="126.20" y="478.85" width="2.70" height="1.30" fill="#111"/>
<rect x="143.15" y="463.25" width="4.60" height="1.30" fill="#111"/>
<rect x="144.80" y="461.60" width="1.30" height="4.60" fill="#111"/>
<rect x="143.15" y="477.95" width="4.60" height="1.30" fill="#111"/>
<rect x="144.80" y="476.30" width="1.30" height="4.60" fill="#111"/>
<rect x="178.75" y="463.75" width="2.70" height="1.30" fill="#111"/>
<rect x="178.75" y="478.85" width="2.70" height="1.30" fill="#111"/>
<rect x="196.65" y="463.75" width="2.70" height="1.30" fill="#111"/>
<rect x="195.70" y="477.95" width="4.60" height="1.30" fill="#111"/>
<rect x="197.35" y="476.30" width="1.30" height="4.60" fill="#111"/>
<rect x="213.30" y="463.25" width="4.60" height="1.30" fill="#111"/>
<rect x="214.95" y="461.60" width="1.30" height="4.60" fill="#111"/>
<rect x="214.25" y="478.85" width="2.70" height="1.30" fill="#111"/>
<rect x="230.90" y="463.25" width="4.60" height="1.30" fill="#111"/>
<rect x="232.55" y="461.60" width="1.30" height="4.60" fill="#111"/>
<rect x="230.90" y="477.95" width="4.60" height="1.30" fill="#111"/>
<rect x="232.55" y="476.30" width="1.30" height="4.60" fill="#111"/>
<line x1="88" y1="489.5" x2="156.7" y2="489.5" stroke="#4646b4" stroke-width="1.1"/>
<line x1="173.2" y1="489.2" x2="242.4" y2="489.2" stroke="#a04040" stroke-width="1.1"/>
<text transform="translate(121.6,497.7) scale(0.9,1)" x="0" y="0" font-size="9.778" font-weight="bold" font-style="normal" text-anchor="middle" fill="#1a1a8e" font-family="Liberation Sans" >No LPA</text>
<text transform="translate(207.3,497.7) scale(0.9,1)" x="0" y="0" font-size="9.778" font-weight="bold" font-style="normal" text-anchor="middle" fill="#8a1414" font-family="Liberation Sans" >LPA</text>
<text transform="translate(259.4,484.5) scale(0.95,1)" x="0" y="0" font-size="9.000" font-weight="bold" font-family="Liberation Sans" fill="#000"><tspan font-style="italic">p</tspan> &lt; 0.01</text>
<polygon points="252.10,477.90 252.54,479.09 253.81,479.14 252.82,479.93 253.16,481.16 252.10,480.46 251.04,481.16 251.38,479.93 250.39,479.14 251.66,479.09" fill="#000"/>
<polygon points="255.00,477.90 255.44,479.09 256.71,479.14 255.72,479.93 256.06,481.16 255.00,480.46 253.94,481.16 254.28,479.93 253.29,479.14 254.56,479.09" fill="#000"/>
<line x1="358.6" y1="280.5" x2="358.6" y2="388.5" stroke="#000" stroke-width="1.5"/>
<line x1="356.2" y1="280.6" x2="358.6" y2="280.6" stroke="#000" stroke-width="1.2"/>
<text transform="translate(353.5,283.6) scale(0.9,1)" x="0" y="0" font-size="9.111" font-weight="bold" font-style="normal" text-anchor="end" fill="#000" font-family="Liberation Sans" >40</text>
<line x1="356.2" y1="307.4" x2="358.6" y2="307.4" stroke="#000" stroke-width="1.2"/>
<text transform="translate(353.5,310.4) scale(0.9,1)" x="0" y="0" font-size="9.111" font-weight="bold" font-style="normal" text-anchor="end" fill="#000" font-family="Liberation Sans" >30</text>
<line x1="356.2" y1="334.2" x2="358.6" y2="334.2" stroke="#000" stroke-width="1.2"/>
<text transform="translate(353.5,337.2) scale(0.9,1)" x="0" y="0" font-size="9.111" font-weight="bold" font-style="normal" text-anchor="end" fill="#000" font-family="Liberation Sans" >20</text>
<line x1="356.2" y1="361.0" x2="358.6" y2="361.0" stroke="#000" stroke-width="1.2"/>
<text transform="translate(353.5,364.0) scale(0.9,1)" x="0" y="0" font-size="9.111" font-weight="bold" font-style="normal" text-anchor="end" fill="#000" font-family="Liberation Sans" >10</text>
<text transform="translate(330.8,327.2) scale(0.9,1) rotate(-90)" x="0" y="0" font-size="7.2" font-weight="bold" text-anchor="middle" fill="#000" font-family="Liberation Sans" >Relative Branching</text>
<text transform="translate(336.6,326.4) scale(0.9,1) rotate(-90)" x="0" y="0" font-size="6.4" font-weight="bold" text-anchor="middle" fill="#000" font-family="Liberation Sans" >(Fluorescence Unit)</text>
<line x1="369.9" y1="345.8" x2="369.9" y2="348.8" stroke="#00008c" stroke-width="1.3"/>
<line x1="366.9" y1="345.8" x2="372.9" y2="345.8" stroke="#00008c" stroke-width="1.3"/>
<rect x="363.0" y="348.8" width="13.8" height="39.099999999999966" fill="#00008c" stroke="none" stroke-width="0"/>
<line x1="392.4" y1="291.0" x2="392.4" y2="294.6" stroke="#00008c" stroke-width="1.3"/>
<line x1="389.4" y1="291.0" x2="395.4" y2="291.0" stroke="#00008c" stroke-width="1.3"/>
<rect x="385.5" y="294.6" width="13.8" height="93.29999999999995" fill="#00008c" stroke="none" stroke-width="0"/>
<line x1="414.9" y1="355.0" x2="414.9" y2="357.5" stroke="#00008c" stroke-width="1.3"/>
<line x1="411.9" y1="355.0" x2="417.9" y2="355.0" stroke="#00008c" stroke-width="1.3"/>
<rect x="408.0" y="357.5" width="13.8" height="30.399999999999977" fill="#00008c" stroke="none" stroke-width="0"/>
<line x1="437.4" y1="335.0" x2="437.4" y2="336.8" stroke="#005f00" stroke-width="1.3"/>
<line x1="434.4" y1="335.0" x2="440.4" y2="335.0" stroke="#005f00" stroke-width="1.3"/>
<rect x="430.5" y="336.8" width="13.8" height="51.099999999999966" fill="#005f00" stroke="none" stroke-width="0"/>
<line x1="460.09999999999997" y1="322.5" x2="460.09999999999997" y2="324.5" stroke="#a010f0" stroke-width="1.3"/>
<line x1="457.09999999999997" y1="322.5" x2="463.09999999999997" y2="322.5" stroke="#a010f0" stroke-width="1.3"/>
<rect x="453.2" y="324.5" width="13.8" height="63.39999999999998" fill="#a010f0" stroke="none" stroke-width="0"/>
<line x1="482.5" y1="304.3" x2="482.5" y2="307.5" stroke="#a010f0" stroke-width="1.3"/>
<line x1="479.5" y1="304.3" x2="485.5" y2="304.3" stroke="#a010f0" stroke-width="1.3"/>
<rect x="475.6" y="307.5" width="13.8" height="80.39999999999998" fill="#a010f0" stroke="none" stroke-width="0"/>
<line x1="504.9" y1="288.8" x2="504.9" y2="295.0" stroke="#a010f0" stroke-width="1.3"/>
<line x1="501.9" y1="288.8" x2="507.9" y2="288.8" stroke="#a010f0" stroke-width="1.3"/>
<rect x="498.0" y="295.0" width="13.8" height="92.89999999999998" fill="#a010f0" stroke="none" stroke-width="0"/>
<polyline points="437.5,331 437.5,270.2 496.3,270.2 496.3,281.5" fill="none" stroke="#b8b8b8" stroke-width="1.0"/>
<line x1="476.3" y1="281.5" x2="511.8" y2="281.5" stroke="#b8b8b8" stroke-width="1.0"/>
<polygon points="465.60,262.70 466.19,264.28 467.88,264.36 466.56,265.41 467.01,267.04 465.60,266.11 464.19,267.04 464.64,265.41 463.32,264.36 465.01,264.28" fill="#111"/>
<line x1="356.2" y1="388" x2="515.5" y2="388" stroke="#000" stroke-width="1.8"/>
<line x1="358.25" y1="388" x2="358.25" y2="431.3" stroke="#7a7a7a" stroke-width="1"/>
<line x1="381.25" y1="388" x2="381.25" y2="431.3" stroke="#7a7a7a" stroke-width="1"/>
<line x1="403.25" y1="388" x2="403.25" y2="431.3" stroke="#7a7a7a" stroke-width="1"/>
<line x1="426.25" y1="388" x2="426.25" y2="431.3" stroke="#7a7a7a" stroke-width="1"/>
<line x1="449.25" y1="388" x2="449.25" y2="431.3" stroke="#7a7a7a" stroke-width="1"/>
<line x1="471.25" y1="388" x2="471.25" y2="431.3" stroke="#7a7a7a" stroke-width="1"/>
<line x1="493.25" y1="388" x2="493.25" y2="431.3" stroke="#7a7a7a" stroke-width="1"/>
<line x1="515.5" y1="388" x2="515.5" y2="431.3" stroke="#7a7a7a" stroke-width="1"/>
<line x1="358.25" y1="402.5" x2="515.5" y2="402.5" stroke="#7a7a7a" stroke-width="1"/>
<line x1="358.25" y1="416.75" x2="515.5" y2="416.75" stroke="#7a7a7a" stroke-width="1"/>
<line x1="357.75" y1="431.7" x2="516" y2="431.7" stroke="#707070" stroke-width="1.2"/>
<text transform="translate(352.5,399.5) scale(0.9,1)" x="0" y="0" font-size="9.222" font-weight="bold" text-anchor="end" font-family="Liberation Sans" fill="#000">LPA (µM)</text>
<text transform="translate(352.5,413.2) scale(0.9,1)" x="0" y="0" font-size="9.222" font-weight="bold" font-style="normal" text-anchor="end" fill="#000" font-family="Liberation Sans" >TSP-1</text>
<text transform="translate(352.5,427.6) scale(0.9,1)" x="0" y="0" font-size="9.222" font-weight="bold" font-style="normal" text-anchor="end" fill="#000" font-family="Liberation Sans" >FGF-2</text>
<rect x="368.55" y="394.75" width="2.40" height="1.10" fill="#333"/>
<rect x="368.55" y="408.75" width="2.40" height="1.10" fill="#333"/>
<rect x="368.55" y="423.05" width="2.40" height="1.10" fill="#333"/>
<rect x="391.05" y="394.75" width="2.40" height="1.10" fill="#333"/>
<rect x="391.05" y="408.75" width="2.40" height="1.10" fill="#333"/>
<rect x="390.30" y="422.92" width="3.90" height="0.95" fill="#222"/>
<rect x="391.77" y="421.45" width="0.95" height="3.90" fill="#222"/>
<rect x="413.55" y="394.75" width="2.40" height="1.10" fill="#333"/>
<rect x="412.80" y="408.72" width="3.90" height="0.95" fill="#222"/>
<rect x="414.27" y="407.25" width="0.95" height="3.90" fill="#222"/>
<rect x="413.55" y="423.05" width="2.40" height="1.10" fill="#333"/>
<rect x="436.55" y="394.75" width="2.40" height="1.10" fill="#333"/>
<rect x="435.80" y="408.72" width="3.90" height="0.95" fill="#222"/>
<rect x="437.27" y="407.25" width="0.95" height="3.90" fill="#222"/>
<rect x="435.80" y="422.92" width="3.90" height="0.95" fill="#222"/>
<rect x="437.27" y="421.45" width="0.95" height="3.90" fill="#222"/>
<text transform="translate(460.25,398.6) scale(0.9,1)" x="0" y="0" font-size="9.444" font-weight="normal" font-style="normal" text-anchor="middle" fill="#000" font-family="Liberation Sans" >1</text>
<rect x="458.30" y="408.72" width="3.90" height="0.95" fill="#222"/>
<rect x="459.77" y="407.25" width="0.95" height="3.90" fill="#222"/>
<rect x="458.30" y="422.92" width="3.90" height="0.95" fill="#222"/>
<rect x="459.77" y="421.45" width="0.95" height="3.90" fill="#222"/>
<text transform="translate(482.25,398.6) scale(0.9,1)" x="0" y="0" font-size="9.444" font-weight="normal" font-style="normal" text-anchor="middle" fill="#000" font-family="Liberation Sans" >2</text>
<rect x="480.30" y="408.72" width="3.90" height="0.95" fill="#222"/>
<rect x="481.77" y="407.25" width="0.95" height="3.90" fill="#222"/>
<rect x="480.30" y="422.92" width="3.90" height="0.95" fill="#222"/>
<rect x="481.77" y="421.45" width="0.95" height="3.90" fill="#222"/>
<text transform="translate(504.375,398.6) scale(0.9,1)" x="0" y="0" font-size="9.444" font-weight="normal" font-style="normal" text-anchor="middle" fill="#000" font-family="Liberation Sans" >5</text>
<rect x="502.43" y="408.72" width="3.90" height="0.95" fill="#222"/>
<rect x="503.90" y="407.25" width="0.95" height="3.90" fill="#222"/>
<rect x="502.43" y="422.92" width="3.90" height="0.95" fill="#222"/>
<rect x="503.90" y="421.45" width="0.95" height="3.90" fill="#222"/>
<text transform="translate(512.3,445.6) scale(0.9,1)" x="0" y="0" font-size="9.556" font-weight="bold" text-anchor="end" font-family="Liberation Serif" fill="#000">*<tspan font-style="italic">p</tspan> <tspan font-weight="normal">&lt;</tspan> 0.05</text>
</svg>
</body></html>
